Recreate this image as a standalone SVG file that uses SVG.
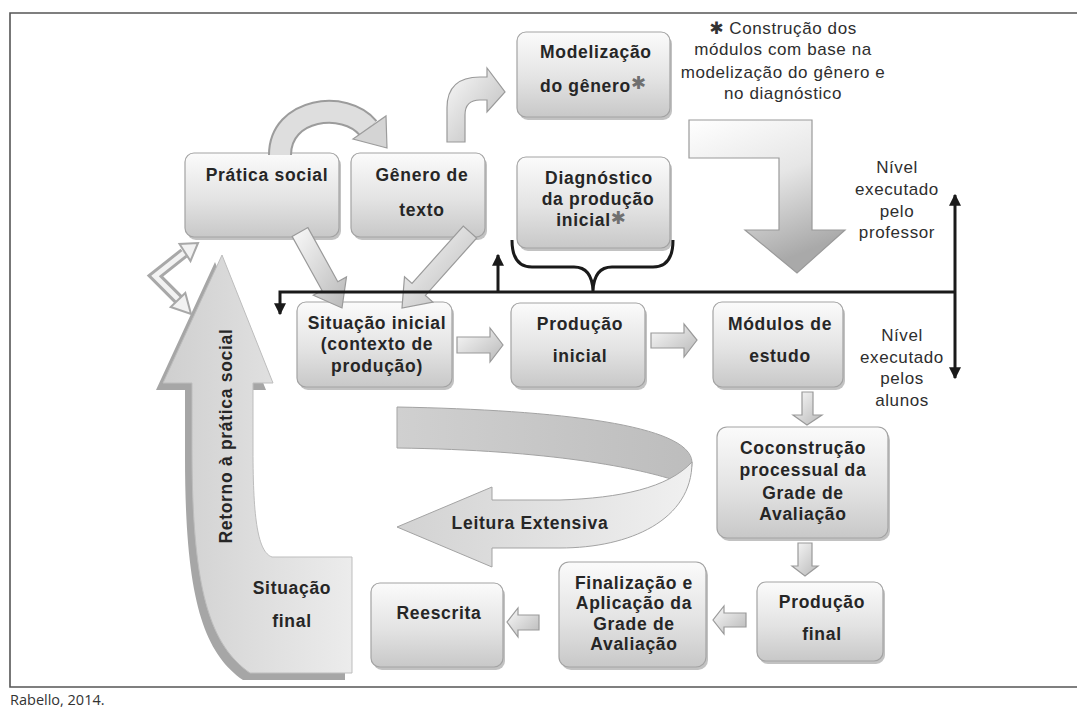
<svg xmlns="http://www.w3.org/2000/svg" width="1077" height="708" viewBox="0 0 1077 708">
<defs>
<linearGradient id="gNode" x1="0" y1="0" x2="0" y2="1">
<stop offset="0" stop-color="#fbfbfb"/><stop offset="0.55" stop-color="#e3e3e3"/><stop offset="1" stop-color="#c8c8c8"/>
</linearGradient>
<linearGradient id="gArrow" x1="0" y1="0" x2="1" y2="1">
<stop offset="0" stop-color="#fafafa"/><stop offset="1" stop-color="#b8b8b8"/>
</linearGradient>
<linearGradient id="gBig" x1="0" y1="0" x2="0.4" y2="1">
<stop offset="0" stop-color="#ffffff"/><stop offset="0.5" stop-color="#e6e6e6"/><stop offset="1" stop-color="#a9a9a9"/>
</linearGradient>
<linearGradient id="gRet" x1="0" y1="0" x2="1" y2="0">
<stop offset="0" stop-color="#cfcfcf"/><stop offset="1" stop-color="#ececec"/>
</linearGradient>
<linearGradient id="gBack" x1="0" y1="0" x2="1" y2="0">
<stop offset="0" stop-color="#d0d0d0"/><stop offset="1" stop-color="#bdbdbd"/>
</linearGradient>
<linearGradient id="gFront" x1="0" y1="0" x2="1" y2="0">
<stop offset="0" stop-color="#d2d2d2"/><stop offset="1" stop-color="#f0f0f0"/>
</linearGradient>
<marker id="ah" viewBox="0 0 10 10" refX="9" refY="5" markerWidth="4" markerHeight="4" orient="auto-start-reverse" markerUnits="strokeWidth">
<path d="M0,0 L10,5 L0,10 Z" fill="#1a1a1a"/>
</marker>
<style>
.box{fill:url(#gNode);stroke:#a3a3a3;stroke-width:1.2}
.sh{fill:#8f8f8f;opacity:0.55}
.t{font-family:"Liberation Sans",Arial,sans-serif;font-weight:bold;font-size:17.5px;fill:#262626;text-anchor:middle;letter-spacing:0.7px}
.r{font-family:"Liberation Sans",Arial,sans-serif;font-size:17px;fill:#2e2e2e;text-anchor:middle;letter-spacing:0.6px}
.ast{fill:#707070;font-family:"DejaVu Sans",sans-serif;font-weight:bold;font-size:18px;letter-spacing:0}
.blk{fill:url(#gArrow);stroke:#9a9a9a;stroke-width:1.2}
.ln{stroke:#1a1a1a;stroke-width:3;fill:none}
</style>
</defs>
<rect x="0" y="0" width="1077" height="708" fill="#ffffff"/>
<path d="M1077,13 L10,13 L10,687 L1077,687" fill="none" stroke="#555" stroke-width="1.6"/>
<text x="10" y="705" font-family="'Open Sans','Liberation Sans',sans-serif" font-size="14.5" fill="#333">Rabello, 2014.</text>

<g id="retorno">
<path transform="translate(-7,7)" d="M222,255 L273,383 L253,383 L253,450 C253,520 258,552 272,557 L352,557 L352,673 L250,673 C210,645 192,590 192,450 L192,383 L163,383 Z" fill="#a6a6a6"/>
<path d="M222,255 L273,383 L253,383 L253,450 C253,520 258,552 272,557 L352,557 L352,673 L250,673 C210,645 192,590 192,450 L192,383 L163,383 Z" fill="url(#gRet)" stroke="#bdbdbd" stroke-width="1"/>
<text class="t" transform="translate(232,436) rotate(-90)">Retorno à prática social</text>
<text class="t" x="292" y="594">Situação</text>
<text class="t" x="292" y="627">final</text>
</g>

<g id="leitura">
<path d="M397,407 C560,410 690,425 692,462 C692,472 688,478 680,482 C640,468 550,450 397,448 Z" fill="url(#gBack)" stroke="#a3a3a3" stroke-width="1"/>
<path d="M692,462 C692,520 630,548 560,548 L492,548 L492,567 L397,527 L492,487 L492,500 L560,500 C620,498 668,488 692,462 Z" fill="url(#gFront)" stroke="#a3a3a3" stroke-width="1"/>
<text class="t" x="530" y="529">Leitura Extensiva</text>
</g>

<g id="cycle-arrow">
<polyline points="184,253 155,276 179,300" fill="none" stroke="#a8a8a8" stroke-width="11" stroke-linejoin="miter"/>
<polyline points="184,253 155,276 179,300" fill="none" stroke="#f2f2f2" stroke-width="5" stroke-linejoin="miter"/>
<polygon points="198,243 190.5,261 179.5,244" fill="#f2f2f2" stroke="#a8a8a8" stroke-width="2"/>
<polygon points="191,314 185.3,293 170.7,307" fill="#f2f2f2" stroke="#a8a8a8" stroke-width="2"/>
</g>

<g id="n-pratica">
<rect class="sh" x="187" y="156" width="154" height="84" rx="9"/>
<rect class="box" x="185" y="153" width="154" height="84" rx="9"/>
<text class="t" x="267" y="181">Prática social</text>
</g>
<g id="n-genero">
<rect class="sh" x="353" y="156" width="134" height="84" rx="9"/>
<rect class="box" x="351" y="153" width="134" height="84" rx="9"/>
<text class="t" x="422" y="181">Gênero de</text>
<text class="t" x="422" y="216">texto</text>
</g>
<g id="n-modelizacao">
<rect class="sh" x="519" y="35" width="153" height="85" rx="9"/>
<rect class="box" x="517" y="32" width="153" height="85" rx="9"/>
<text class="t" x="540" y="58" style="text-anchor:start">Modelização</text>
<text class="t" x="540" y="92" style="text-anchor:start">do gênero<tspan class="ast" font-size="20" dy="-3">✱</tspan></text>
</g>
<g id="n-diagnostico">
<rect class="sh" x="519" y="160" width="153" height="91" rx="9"/>
<rect class="box" x="517" y="157" width="153" height="91" rx="9"/>
<text class="t" x="599" y="184">Diagnóstico</text>
<text class="t" x="598" y="205">da produção</text>
<text class="t" x="591" y="226">inicial<tspan class="ast" dy="-2">✱</tspan></text>
</g>
<g id="n-situacao">
<rect class="sh" x="299" y="305" width="155" height="85" rx="9"/>
<rect class="box" x="297" y="302" width="155" height="85" rx="9"/>
<text class="t" x="377" y="329">Situação inicial</text>
<text class="t" x="377" y="350">(contexto de</text>
<text class="t" x="377" y="372">produção)</text>
</g>
<g id="n-producao-inicial">
<rect class="sh" x="513" y="306" width="134" height="84" rx="9"/>
<rect class="box" x="511" y="303" width="134" height="84" rx="9"/>
<text class="t" x="580" y="330">Produção</text>
<text class="t" x="580" y="362">inicial</text>
</g>
<g id="n-modulos">
<rect class="sh" x="715" y="305" width="130" height="85" rx="9"/>
<rect class="box" x="713" y="302" width="130" height="85" rx="9"/>
<text class="t" x="780" y="330">Módulos de</text>
<text class="t" x="780" y="362">estudo</text>
</g>
<g id="n-coconstrucao">
<rect class="sh" x="719" y="430" width="171" height="111" rx="10"/>
<rect class="box" x="717" y="427" width="171" height="111" rx="10"/>
<text class="t" x="803" y="454">Coconstrução</text>
<text class="t" x="803" y="476">processual da</text>
<text class="t" x="803" y="499">Grade de</text>
<text class="t" x="803" y="520">Avaliação</text>
</g>
<g id="n-producao-final">
<rect class="sh" x="759" y="585" width="126" height="79" rx="9"/>
<rect class="box" x="757" y="582" width="126" height="79" rx="9"/>
<text class="t" x="822" y="608">Produção</text>
<text class="t" x="822" y="640">final</text>
</g>
<g id="n-finalizacao">
<rect class="sh" x="561" y="565" width="147" height="105" rx="10"/>
<rect class="box" x="559" y="562" width="147" height="105" rx="10"/>
<text class="t" x="634" y="589">Finalização e</text>
<text class="t" x="634" y="609">Aplicação da</text>
<text class="t" x="634" y="630">Grade de</text>
<text class="t" x="634" y="650">Avaliação</text>
</g>
<g id="n-reescrita">
<rect class="sh" x="373" y="586" width="132" height="84" rx="9"/>
<rect class="box" x="371" y="583" width="132" height="84" rx="9"/>
<text class="t" x="439" y="619">Reescrita</text>
</g>

<g id="annotations">
<text class="r" x="783" y="34"><tspan font-family="'DejaVu Sans',sans-serif" font-weight="bold" font-size="17" fill="#333">✱</tspan> Construção dos</text>
<text class="r" x="783" y="55">módulos com base na</text>
<text class="r" x="783" y="78">modelização do gênero e</text>
<text class="r" x="783" y="99">no diagnóstico</text>
<text class="r" x="897" y="173">Nível</text>
<text class="r" x="897" y="195">executado</text>
<text class="r" x="897" y="217">pelo</text>
<text class="r" x="897" y="238">professor</text>
<text class="r" x="902" y="341">Nível</text>
<text class="r" x="902" y="363">executado</text>
<text class="r" x="902" y="384">pelos</text>
<text class="r" x="902" y="406">alunos</text>
</g>

<g id="connectors">
<path d="M280,155 C280,108 345,100 368,128" fill="none" stroke="#9c9c9c" stroke-width="24"/>
<path d="M280,155 C280,108 345,100 368,128" fill="none" stroke="#dedede" stroke-width="20"/>
<polygon points="387,148 353,139 386,116" fill="#d4d4d4" stroke="#9c9c9c" stroke-width="1.2"/>
<path class="blk" d="M447,142 L447,108 Q447,77 480,77 L487,77 L487,68 L505,92 L487,112 L487,100 L480,100 Q465,100 465,115 L465,142 Z"/>
<polygon class="blk" points="307.9,227.6 337.8,281.7 346.5,276.9 342,308 313.3,295.3 322,290.5 292.1,236.4"/>
<polygon class="blk" points="476.7,238 425.4,295.4 432.9,302.1 402,308 404.5,276.7 412,283.4 463.3,226"/>
<polygon points="689,120 812,120 812,230 845,230 797,273 745,230 779,230 779,158 689,158" fill="url(#gBig)" stroke="#9a9a9a" stroke-width="1.2"/>
<polygon class="blk" points="457,337 490,337 490,328 503,345 490,362 490,353 457,353"/>
<polygon class="blk" points="651,333 684,333 684,324 697,340 684,357 684,348 651,348"/>
<polygon class="blk" points="802,392 813,392 813,415 822,415 807,425 793,415 802,415"/>
<polygon class="blk" points="798,543 812,543 812,566 818,566 805,576 792,566 798,566"/>
<polygon class="blk" points="746,613 724,613 724,606 713,620 724,634 724,627 746,627"/>
<polygon class="blk" points="539,615 518,615 518,608 507,622 518,637 518,630 539,630"/>
<path class="ln" d="M955,292 L280,292 L280,314" marker-end="url(#ah)"/>
<path class="ln" d="M498,292 L498,255" marker-end="url(#ah)"/>
<path class="ln" d="M955,195 L955,378" marker-start="url(#ah)" marker-end="url(#ah)"/>
<path class="ln" d="M512,240 Q512,267 532,267 L574,267 Q592,267 593,291 Q594,267 612,267 L653,267 Q673,267 673,240"/>
</g>
</svg>
